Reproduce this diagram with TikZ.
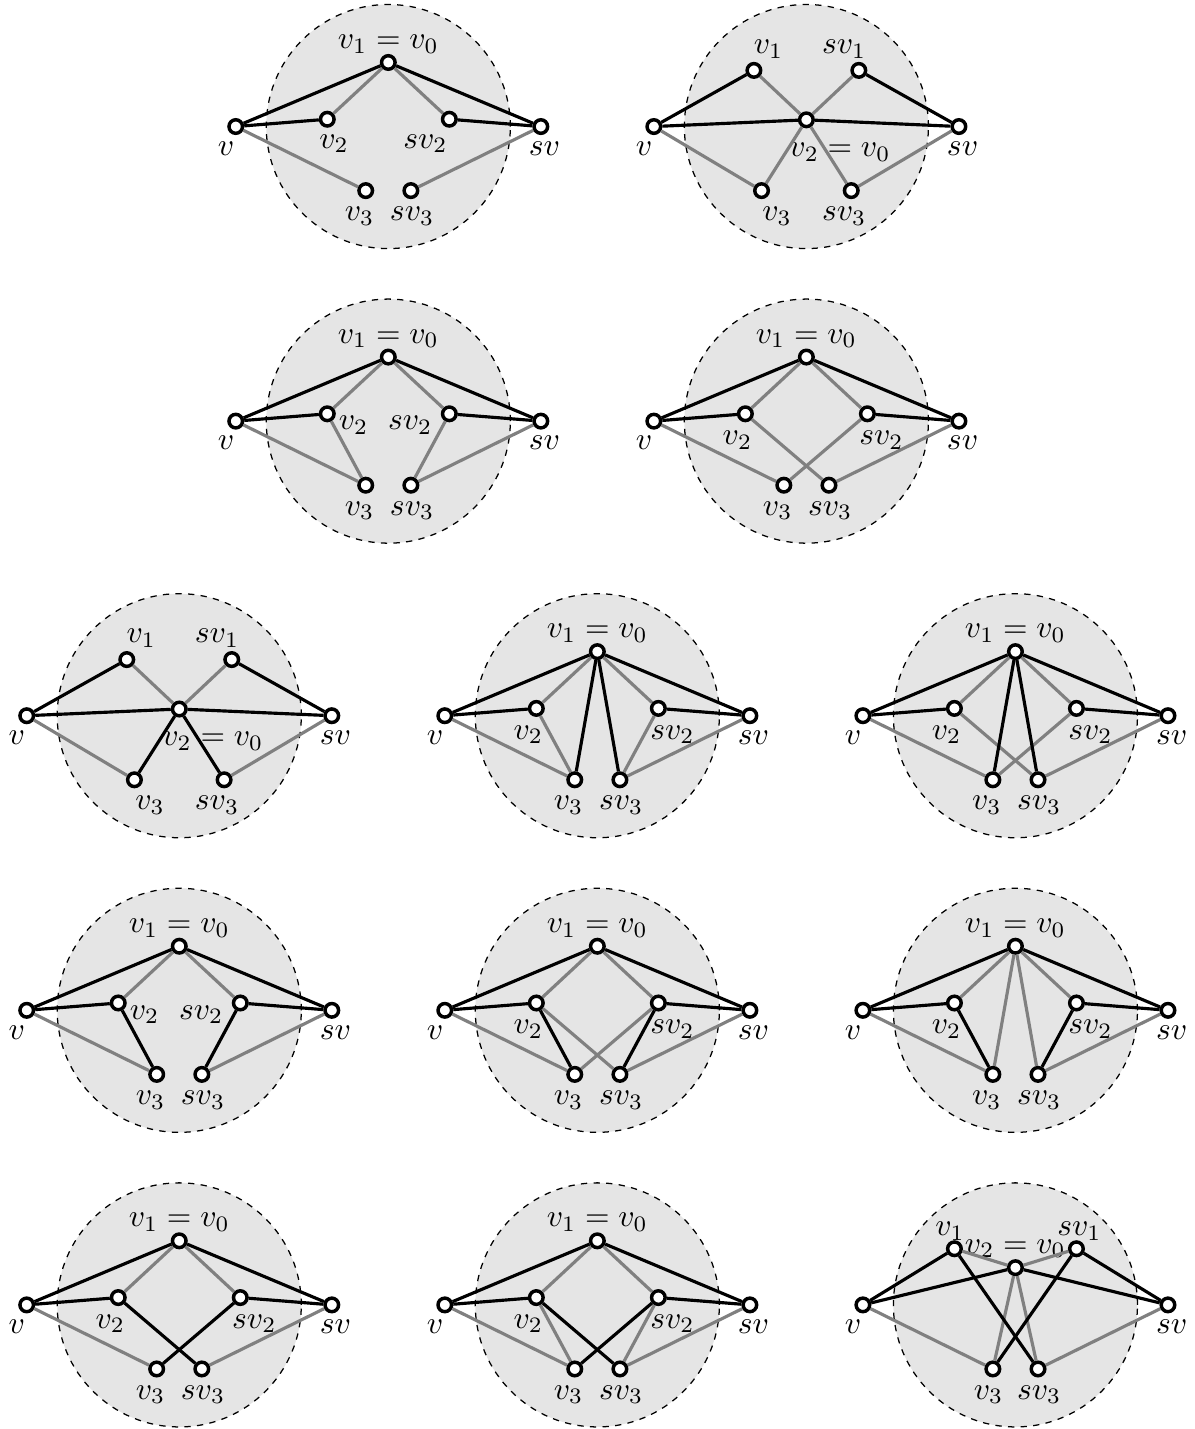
\documentclass[tikz,border=0pt]{standalone}
\usepackage{amssymb, amsmath}
\usepackage{tikz}

\tikzset{
	vtx/.style={circle, draw, fill=white, line width=1.1pt, inner sep=0pt, minimum size=4.3pt},
	blk/.style={line width=1pt},
	gry/.style={line width=1pt, gray},
	disc/.style={fill=black!10, draw, thin, dash pattern=on 2pt off 2pt},
}

% disc with v, sv, v_3, sv_3 and their labels
\newcommand{\rim}[4]{%
	\draw[disc] (0,0) circle (2);
	\node (lv) at (-2.66,-0.36) {$v$};
	\node (lsv) at (2.56,-0.36) {$sv$};
	\node (lv3) at (#2,-1.47) {$v_3$};
	\node (lsv3) at (#3,-1.47) {$sv_3$};
	\node[vtx] (v) at (-2.5,0) {};
	\node[vtx] (sv) at (2.5,0) {};
	\node[vtx] (v3) at (-#1,-1.05) {};
	\node[vtx] (sv3) at (#1,-1.05) {};
}

% v_1 = v_0 on top, v_2 and sv_2 at the sides
\newcommand{\topnodes}[2]{%
	\rim{0.37}{-0.47}{0.39}{}
	\node (lv1) at (0,1.35) {$v_1 = v_0$};
	\node (lv2) at (#1) {$v_2$};
	\node (lsv2) at (#2) {$sv_2$};
	\node[vtx] (v1) at (0,1.05) {};
	\node[vtx] (v2) at (-1,0.12) {};
	\node[vtx] (sv2) at (1,0.12) {};
}

% v_2 = v_0 in the middle, v_1 and sv_1 above
\newcommand{\midnodes}{%
	\rim{0.735}{-0.48}{0.62}{}
	\node (lv1) at (-0.62,1.27) {$v_1$};
	\node (lsv1) at (0.62,1.27) {$sv_1$};
	\node (lv2) at (0.55,-0.42) {$v_2 = v_0$};
	\node[vtx] (v1) at (-0.86,0.92) {};
	\node[vtx] (sv1) at (0.86,0.92) {};
	\node[vtx] (v2) at (0,0.11) {};
}

\begin{document}
\begin{tikzpicture}[x=0.68cm, y=0.68cm]
	\useasboundingbox (-9.79,-11.69) rectangle (9.79,11.73);

	% row 1
	\begin{scope}[shift={(-3.426,9.656)}]
		\topnodes{-0.89,-0.28}{0.61,-0.28}
		\foreach \a/\b in {v1/v2, v1/sv2, v/v3, sv/sv3} \draw[gry] (\a) -- (\b);
		\foreach \a/\b in {v/v1, v1/sv, v/v2, sv2/sv} \draw[blk] (\a) -- (\b);
	\end{scope}
	\begin{scope}[shift={(3.426,9.656)}]
		\midnodes
		\foreach \a/\b in {v1/v2, sv1/v2, v2/v3, v2/sv3, v/v3, sv/sv3} \draw[gry] (\a) -- (\b);
		\foreach \a/\b in {v/v1, sv1/sv, v/v2, v2/sv} \draw[blk] (\a) -- (\b);
	\end{scope}

	% row 2
	\begin{scope}[shift={(-3.426,4.828)}]
		\topnodes{-0.57,-0.07}{0.36,-0.07}
		\foreach \a/\b in {v1/v2, v1/sv2, v2/v3, sv2/sv3, v/v3, sv/sv3} \draw[gry] (\a) -- (\b);
		\foreach \a/\b in {v/v1, v1/sv, v/v2, sv2/sv} \draw[blk] (\a) -- (\b);
	\end{scope}
	\begin{scope}[shift={(3.426,4.828)}]
		\topnodes{-1.13,-0.31}{1.23,-0.31}
		\foreach \a/\b in {v1/v2, v1/sv2, v2/sv3, sv2/v3, v/v3, sv/sv3} \draw[gry] (\a) -- (\b);
		\foreach \a/\b in {v/v1, v1/sv, v/v2, sv2/sv} \draw[blk] (\a) -- (\b);
	\end{scope}

	% row 3
	\begin{scope}[shift={(-6.852,0)}]
		\midnodes
		\foreach \a/\b in {v1/v2, sv1/v2, v/v3, sv/sv3} \draw[gry] (\a) -- (\b);
		\foreach \a/\b in {v/v1, sv1/sv, v/v2, v2/sv, v2/v3, v2/sv3} \draw[blk] (\a) -- (\b);
	\end{scope}
	\begin{scope}
		\topnodes{-1.13,-0.31}{1.23,-0.31}
		\foreach \a/\b in {v1/v2, v1/sv2, v2/v3, sv2/sv3, v/v3, sv/sv3} \draw[gry] (\a) -- (\b);
		\foreach \a/\b in {v/v1, v1/sv, v/v2, sv2/sv, v1/v3, v1/sv3} \draw[blk] (\a) -- (\b);
	\end{scope}
	\begin{scope}[shift={(6.852,0)}]
		\topnodes{-1.13,-0.31}{1.23,-0.31}
		\foreach \a/\b in {v1/v2, v1/sv2, v2/sv3, sv2/v3, v/v3, sv/sv3} \draw[gry] (\a) -- (\b);
		\foreach \a/\b in {v/v1, v1/sv, v/v2, sv2/sv, v1/v3, v1/sv3} \draw[blk] (\a) -- (\b);
	\end{scope}

	% row 4
	\begin{scope}[shift={(-6.852,-4.828)}]
		\topnodes{-0.57,-0.07}{0.36,-0.07}
		\foreach \a/\b in {v1/v2, v1/sv2, v/v3, sv/sv3} \draw[gry] (\a) -- (\b);
		\foreach \a/\b in {v/v1, v1/sv, v/v2, sv2/sv, v2/v3, sv2/sv3} \draw[blk] (\a) -- (\b);
	\end{scope}
	\begin{scope}[shift={(0,-4.828)}]
		\topnodes{-1.13,-0.31}{1.23,-0.31}
		\foreach \a/\b in {v1/v2, v1/sv2, v2/sv3, sv2/v3, v/v3, sv/sv3} \draw[gry] (\a) -- (\b);
		\foreach \a/\b in {v/v1, v1/sv, v/v2, sv2/sv, v2/v3, sv2/sv3} \draw[blk] (\a) -- (\b);
	\end{scope}
	\begin{scope}[shift={(6.852,-4.828)}]
		\topnodes{-1.13,-0.31}{1.23,-0.31}
		\foreach \a/\b in {v1/v2, v1/sv2, v1/v3, v1/sv3, v/v3, sv/sv3} \draw[gry] (\a) -- (\b);
		\foreach \a/\b in {v/v1, v1/sv, v/v2, sv2/sv, v2/v3, sv2/sv3} \draw[blk] (\a) -- (\b);
	\end{scope}

	% row 5
	\begin{scope}[shift={(-6.852,-9.656)}]
		\topnodes{-1.13,-0.31}{1.23,-0.31}
		\foreach \a/\b in {v1/v2, v1/sv2, v/v3, sv/sv3} \draw[gry] (\a) -- (\b);
		\foreach \a/\b in {v/v1, v1/sv, v/v2, sv2/sv, v2/sv3, sv2/v3} \draw[blk] (\a) -- (\b);
	\end{scope}
	\begin{scope}[shift={(0,-9.656)}]
		\topnodes{-1.13,-0.31}{1.23,-0.31}
		\foreach \a/\b in {v1/v2, v1/sv2, v2/v3, sv2/sv3, v/v3, sv/sv3} \draw[gry] (\a) -- (\b);
		\foreach \a/\b in {v/v1, v1/sv, v/v2, sv2/sv, v2/sv3, sv2/v3} \draw[blk] (\a) -- (\b);
	\end{scope}
	\begin{scope}[shift={(6.852,-9.656)}]
		\rim{0.37}{-0.44}{0.39}{}
		\node (lv2) at (0,0.92) {$v_2 = v_0$};
		\node (lv1) at (-1.07,1.21) {$v_1$};
		\node (lsv1) at (1.05,1.21) {$sv_1$};
		\node[vtx] (v1) at (-1,0.92) {};
		\node[vtx] (v2) at (0,0.61) {};
		\node[vtx] (sv1) at (1,0.92) {};
		\foreach \a/\b in {v1/v2, sv1/v2, v2/v3, v2/sv3, v/v3, sv/sv3} \draw[gry] (\a) -- (\b);
		\foreach \a/\b in {v/v1, sv1/sv, v/v2, v2/sv, v1/sv3, sv1/v3} \draw[blk] (\a) -- (\b);
	\end{scope}
\end{tikzpicture}
\end{document}
